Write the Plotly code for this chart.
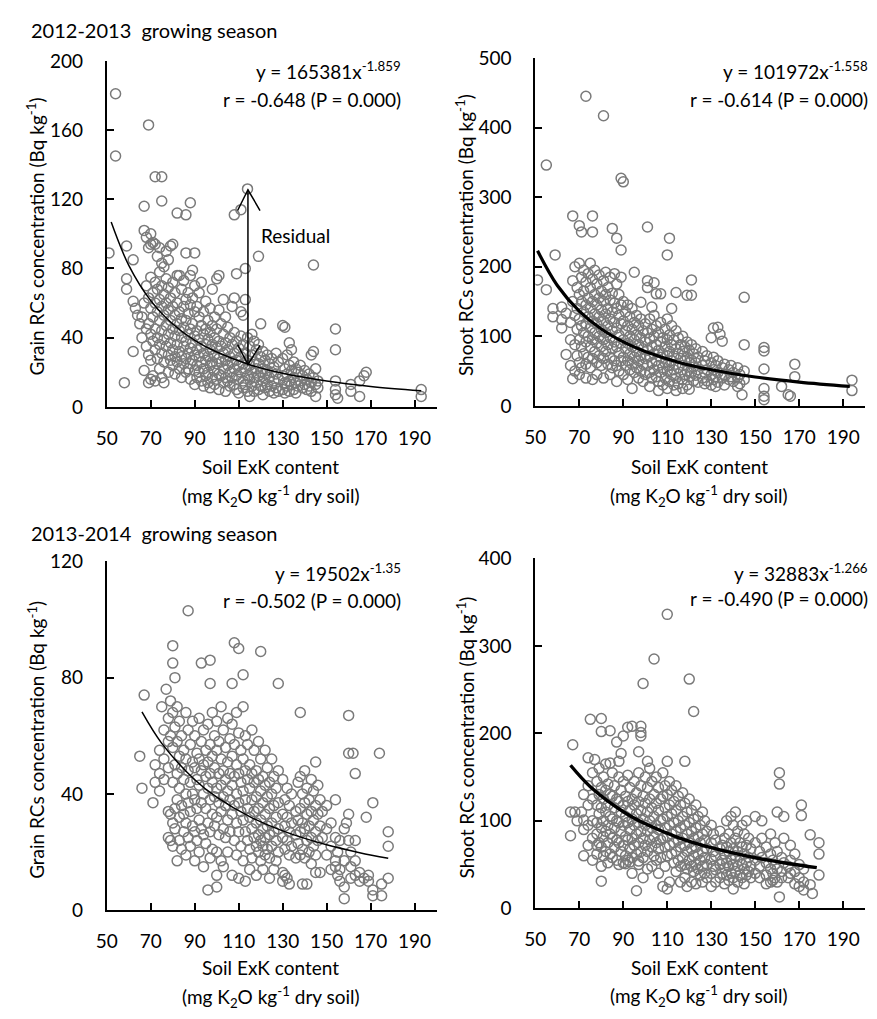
import plotly.graph_objects as go

# ---------------- data ----------------
xticks = [50, 70, 90, 110, 130, 150, 170, 190]

# Panel A: grain RCs, 2012-2013  (x = soil ExK, y = Bq/kg)
grain_1213_points = [
    (51, 89), (54, 181), (54, 145), (58, 14), (59, 93), (59, 74), (59, 68), (62, 85), (62, 61), (62, 32),
    (63, 57), (64, 53), (65, 48), (66, 40), (66, 52), (67, 116), (67, 102), (67, 60), (67, 21),
    (68, 98), (68, 70), (68, 45), (68, 35), (69, 163), (69, 92), (69, 63), (69, 48), (69, 30), (69, 14),
    (70, 100), (70, 94), (70, 75), (70, 57), (70, 42), (70, 27), (70, 16),
    (71, 95), (71, 66), (71, 52), (71, 38), (71, 18),
    (72, 133), (72, 94), (72, 72), (72, 60), (72, 45), (72, 33), (72, 15),
    (73, 87), (73, 68), (73, 55), (73, 40), (73, 28),
    (74, 92), (74, 78), (74, 62), (74, 50), (74, 36), (74, 22),
    (75, 133), (75, 119), (75, 83), (75, 70), (75, 58), (75, 44), (75, 31), (75, 17),
    (76, 81), (76, 65), (76, 53), (76, 39), (76, 26), (76, 14),
    (77, 90), (77, 74), (77, 60), (77, 47), (77, 35),
    (78, 85), (78, 69), (78, 56), (78, 42), (78, 30), (78, 20),
    (79, 93), (79, 63), (79, 50), (79, 37), (79, 27),
    (80, 94), (80, 72), (80, 58), (80, 45), (80, 33), (80, 24),
    (81, 66), (81, 53), (81, 41), (81, 29), (81, 19),
    (82, 112), (82, 76), (82, 60), (82, 48), (82, 36), (82, 26),
    (83, 76), (83, 55), (83, 44), (83, 32), (83, 22),
    (84, 68), (84, 51), (84, 40), (84, 29), (84, 17),
    (85, 73), (85, 58), (85, 46), (85, 35), (85, 25),
    (86, 111), (86, 89), (86, 62), (86, 50), (86, 38), (86, 28), (86, 20),
    (87, 66), (87, 54), (87, 42), (87, 31), (87, 22),
    (88, 118), (88, 76), (88, 59), (88, 45), (88, 34), (88, 25), (88, 16),
    (89, 79), (89, 63), (89, 48), (89, 37), (89, 27),
    (90, 89), (90, 70), (90, 55), (90, 41), (90, 30), (90, 21), (90, 13),
    (91, 58), (91, 44), (91, 33), (91, 24), (91, 17),
    (92, 66), (92, 52), (92, 39), (92, 29), (92, 20),
    (93, 72), (93, 47), (93, 35), (93, 26), (93, 15),
    (94, 55), (94, 42), (94, 31), (94, 22), (94, 12),
    (95, 61), (95, 45), (95, 36), (95, 27), (95, 18),
    (96, 50), (96, 39), (96, 29), (96, 20), (96, 14),
    (97, 57), (97, 43), (97, 33), (97, 24), (97, 11),
    (98, 68), (98, 47), (98, 36), (98, 26), (98, 17),
    (99, 52), (99, 40), (99, 30), (99, 21), (99, 13),
    (100, 74), (100, 45), (100, 34), (100, 25), (100, 16),
    (101, 76), (101, 56), (101, 38), (101, 28), (101, 19), (101, 10),
    (102, 48), (102, 35), (102, 26), (102, 18),
    (103, 62), (103, 42), (103, 31), (103, 22), (103, 14),
    (104, 52), (104, 37), (104, 27), (104, 17), (104, 9),
    (105, 46), (105, 33), (105, 24), (105, 15),
    (106, 40), (106, 29), (106, 20), (106, 12),
    (107, 58), (107, 36), (107, 26), (107, 17),
    (108, 111), (108, 63), (108, 43), (108, 31), (108, 22), (108, 13),
    (109, 77), (109, 38), (109, 27), (109, 18), (109, 10),
    (110, 34), (110, 24), (110, 16), (110, 8),
    (111, 114), (111, 55), (111, 41), (111, 29), (111, 20),
    (112, 53), (112, 36), (112, 25), (112, 15), (112, 11),
    (113, 80), (113, 62), (113, 31), (113, 22), (113, 13),
    (114, 126), (114, 40), (114, 27), (114, 18), (114, 9),
    (115, 35), (115, 24), (115, 16), (115, 6),
    (116, 42), (116, 30), (116, 20), (116, 12),
    (117, 38), (117, 26), (117, 17), (117, 9),
    (118, 33), (118, 22), (118, 14),
    (119, 87), (119, 36), (119, 25), (119, 18), (119, 10),
    (120, 48), (120, 29), (120, 20), (120, 12),
    (121, 32), (121, 22), (121, 15), (121, 7),
    (122, 27), (122, 19), (122, 11), (123, 30), (123, 21), (123, 13),
    (124, 25), (124, 17), (124, 9), (125, 28), (125, 20), (125, 12),
    (126, 23), (126, 15), (126, 8), (127, 31), (127, 19), (127, 11),
    (128, 26), (128, 16), (128, 9),
    (130, 47), (130, 28), (130, 18), (130, 10), (131, 46), (131, 22), (131, 14), (131, 8),
    (132, 30), (132, 19), (132, 12), (133, 37), (133, 24), (133, 15), (133, 9),
    (134, 33), (134, 21), (134, 13), (135, 26), (135, 17), (135, 10),
    (136, 22), (136, 14), (136, 8), (137, 20), (137, 12), (138, 24), (138, 15),
    (139, 18), (139, 11), (140, 21), (140, 13), (141, 16), (141, 10), (142, 19), (142, 12),
    (143, 30), (143, 14), (143, 9), (144, 82), (144, 32), (144, 17),
    (145, 22), (145, 13), (145, 6), (146, 15), (146, 11),
    (154, 45), (154, 33), (154, 15), (154, 10), (154, 7), (155, 5),
    (161, 13), (161, 9), (165, 6), (165, 15), (167, 18), (168, 20),
    (193, 10), (193, 6),
]

# Panel B: shoot RCs, 2012-2013
shoot_1213_points = [
    (51, 181), (55, 346), (55, 167), (58, 140), (58, 128), (59, 217), (62, 142), (62, 124), (62, 112),
    (64, 133), (64, 74), (67, 273), (67, 39), (70, 259), (71, 250), (73, 445), (76, 273), (76, 250),
    (81, 417), (85, 255), (87, 241), (89, 224), (89, 327), (90, 322), (95, 192), (98, 149), (101, 257),
    (101, 180), (103, 142), (104, 177), (105, 161), (107, 161), (110, 217), (111, 241), (112, 140),
    (114, 163), (119, 159), (121, 159), (121, 181), (130, 98), (131, 112), (133, 113), (134, 103),
    (135, 93), (145, 156), (145, 88), (144, 16), (154, 84), (154, 79), (154, 53), (154, 25), (154, 14),
    (154, 9), (162, 28), (165, 16), (166, 14), (168, 60), (168, 42), (194, 37), (194, 22),
    (66, 120), (66, 95), (66, 58), (67, 150), (67, 180),
    (68, 200), (68, 130), (68, 88), (68, 50), (69, 170), (69, 140), (69, 110), (69, 72),
    (70, 205), (70, 160), (70, 125), (70, 95), (70, 62), (70, 45),
    (71, 185), (71, 150), (71, 115), (71, 85), (71, 55),
    (72, 195), (72, 165), (72, 135), (72, 105), (72, 75),
    (73, 178), (73, 145), (73, 118), (73, 92), (73, 60), (73, 40),
    (74, 190), (74, 155), (74, 128), (74, 100), (74, 70),
    (75, 205), (75, 170), (75, 140), (75, 112), (75, 85), (75, 55),
    (76, 182), (76, 150), (76, 122), (76, 95), (76, 68), (76, 38),
    (77, 195), (77, 160), (77, 132), (77, 105), (77, 78),
    (78, 175), (78, 145), (78, 118), (78, 90), (78, 62), (78, 45),
    (79, 188), (79, 155), (79, 128), (79, 100), (79, 72),
    (80, 165), (80, 138), (80, 110), (80, 85), (80, 58),
    (81, 180), (81, 150), (81, 122), (81, 95), (81, 68), (81, 40),
    (82, 192), (82, 160), (82, 132), (82, 105), (82, 78),
    (83, 170), (83, 140), (83, 115), (83, 88), (83, 60),
    (84, 185), (84, 152), (84, 125), (84, 98), (84, 70), (84, 45),
    (85, 162), (85, 135), (85, 108), (85, 82), (85, 55),
    (86, 190), (86, 148), (86, 120), (86, 92), (86, 65),
    (87, 175), (87, 140), (87, 112), (87, 85), (87, 58), (87, 35),
    (88, 160), (88, 130), (88, 102), (88, 76), (88, 50),
    (89, 185), (89, 145), (89, 118), (89, 90), (89, 65),
    (90, 150), (90, 122), (90, 95), (90, 70), (90, 45),
    (91, 135), (91, 108), (91, 82), (91, 58),
    (92, 145), (92, 115), (92, 90), (92, 65), (92, 38),
    (93, 128), (93, 100), (93, 75), (93, 52),
    (94, 140), (94, 110), (94, 85), (94, 60), (94, 25),
    (95, 120), (95, 95), (95, 70), (95, 48),
    (96, 130), (96, 102), (96, 78), (96, 55),
    (97, 115), (97, 88), (97, 65), (97, 40),
    (98, 125), (98, 98), (98, 72), (98, 50),
    (99, 108), (99, 82), (99, 60), (99, 35),
    (100, 118), (100, 92), (100, 68), (100, 45),
    (101, 170), (101, 105), (101, 80), (101, 58),
    (102, 125), (102, 96), (102, 72), (102, 48), (102, 28),
    (103, 110), (103, 85), (103, 62), (103, 40),
    (104, 130), (104, 100), (104, 75), (104, 52),
    (105, 115), (105, 88), (105, 65), (105, 42),
    (106, 105), (106, 80), (106, 58), (106, 35), (106, 22),
    (107, 120), (107, 92), (107, 70), (107, 48),
    (108, 98), (108, 75), (108, 55), (108, 30),
    (109, 110), (109, 85), (109, 62), (109, 40),
    (110, 125), (110, 95), (110, 72), (110, 50), (110, 25),
    (111, 102), (111, 78), (111, 58), (111, 35),
    (112, 115), (112, 88), (112, 65), (112, 45),
    (113, 95), (113, 72), (113, 52), (113, 30),
    (114, 108), (114, 82), (114, 60), (114, 40), (114, 22),
    (115, 98), (115, 75), (115, 55), (115, 32),
    (116, 88), (116, 68), (116, 48),
    (117, 100), (117, 78), (117, 58), (117, 38), (117, 25),
    (118, 85), (118, 65), (118, 45),
    (119, 92), (119, 70), (119, 50), (119, 30),
    (120, 80), (120, 62), (120, 42), (120, 24),
    (121, 88), (121, 66), (121, 48), (122, 75), (122, 56), (122, 36),
    (123, 82), (123, 62), (123, 44), (124, 70), (124, 52), (124, 34),
    (126, 78), (126, 58), (126, 40), (127, 65), (127, 48), (127, 32),
    (128, 72), (128, 52), (128, 36), (130, 62), (130, 45), (130, 30),
    (131, 70), (131, 52), (131, 38), (132, 58), (132, 42), (132, 28),
    (133, 65), (133, 48), (133, 34), (135, 55), (135, 40), (136, 60), (136, 45), (136, 30),
    (138, 52), (138, 38), (139, 58), (139, 42), (140, 48), (140, 35),
    (142, 55), (142, 40), (142, 28), (143, 45), (143, 32), (145, 50), (145, 38),
]

# Panel C: grain RCs, 2013-2014
grain_1314_points = [
    (65, 53), (66, 42), (67, 74), (71, 37), (75, 70), (77, 76), (80, 91), (80, 85), (81, 80), (82, 17),
    (87, 103), (93, 85), (96, 7), (97, 86), (97, 78), (100, 8), (107, 78), (108, 92), (110, 90),
    (112, 81), (120, 89), (128, 78), (138, 68), (145, 51), (160, 67), (160, 54), (162, 54), (163, 47),
    (174, 54), (178, 27), (178, 22), (178, 11), (175, 9), (171, 7), (171, 5), (175, 5), (158, 4),
    (154, 38), (171, 37), (168, 32), (160, 33), (159, 30), (160, 24), (163, 24),
    (72, 50), (72, 44), (74, 55), (74, 47), (74, 41), (76, 62), (76, 52), (76, 45),
    (78, 66), (78, 58), (78, 49), (78, 34), (78, 25), (79, 72), (79, 60), (79, 33), (79, 24),
    (80, 68), (80, 56), (80, 44), (80, 30), (80, 22), (81, 63), (81, 50), (81, 35), (81, 28),
    (82, 70), (82, 58), (82, 47), (82, 38), (83, 65), (83, 53), (83, 42), (83, 32), (83, 24),
    (84, 60), (84, 49), (84, 36), (84, 21), (85, 55), (85, 45), (85, 33), (85, 27),
    (86, 68), (86, 52), (86, 40), (86, 30), (86, 19), (87, 62), (87, 48), (87, 37), (87, 25),
    (88, 57), (88, 44), (88, 34), (88, 22), (89, 65), (89, 51), (89, 40), (89, 29),
    (90, 60), (90, 49), (90, 38), (90, 27), (90, 17), (91, 54), (91, 45), (91, 35), (91, 24),
    (92, 66), (92, 52), (92, 43), (92, 31), (92, 20), (93, 58), (93, 48), (93, 37), (93, 28),
    (94, 62), (94, 50), (94, 40), (94, 26), (94, 15), (95, 55), (95, 46), (95, 35), (95, 23),
    (96, 64), (96, 51), (96, 42), (96, 30), (97, 57), (97, 47), (97, 38), (97, 27), (97, 18),
    (98, 68), (98, 53), (98, 44), (98, 33), (98, 21), (99, 60), (99, 49), (99, 39), (99, 29),
    (100, 65), (100, 55), (100, 42), (100, 32), (100, 20), (100, 12),
    (101, 58), (101, 47), (101, 37), (101, 26), (102, 70), (102, 52), (102, 43), (102, 34), (102, 17),
    (103, 62), (103, 48), (103, 39), (103, 28), (103, 15), (104, 56), (104, 45), (104, 36), (104, 25),
    (105, 66), (105, 51), (105, 41), (105, 31), (105, 20), (106, 59), (106, 47), (106, 38), (106, 27),
    (107, 64), (107, 53), (107, 43), (107, 33), (107, 12), (108, 57), (108, 46), (108, 36), (108, 24),
    (109, 68), (109, 50), (109, 40), (109, 30), (109, 19), (110, 61), (110, 47), (110, 37), (110, 27), (110, 11),
    (111, 55), (111, 44), (111, 34), (111, 22), (112, 70), (112, 52), (112, 41), (112, 31), (112, 17),
    (113, 60), (113, 48), (113, 38), (113, 27), (113, 10), (114, 57), (114, 45), (114, 35), (114, 24),
    (115, 50), (115, 42), (115, 32), (115, 21), (115, 14), (116, 62), (116, 47), (116, 38), (116, 28), (116, 18),
    (117, 55), (117, 44), (117, 34), (117, 25), (118, 48), (118, 39), (118, 30), (118, 22), (118, 12),
    (119, 58), (119, 45), (119, 35), (119, 26), (119, 20), (120, 52), (120, 41), (120, 31), (120, 24), (120, 17),
    (121, 46), (121, 37), (121, 28), (121, 22), (121, 14), (122, 55), (122, 43), (122, 33), (122, 25), (122, 19),
    (123, 49), (123, 39), (123, 29), (123, 21), (124, 44), (124, 35), (124, 26), (124, 18), (124, 11),
    (125, 52), (125, 40), (125, 30), (125, 22), (126, 46), (126, 36), (126, 27), (126, 14),
    (127, 42), (127, 32), (127, 24), (127, 17), (128, 48), (128, 37), (128, 28), (128, 20),
    (130, 45), (130, 33), (130, 25), (130, 13), (130, 10), (131, 38), (131, 29), (131, 21), (131, 12),
    (132, 42), (132, 32), (132, 24), (132, 11), (133, 36), (133, 27), (133, 19), (133, 9),
    (134, 40), (134, 30), (134, 22), (136, 34), (136, 26), (136, 18), (137, 44), (137, 31), (137, 23),
    (138, 46), (138, 35), (138, 27), (138, 19), (139, 40), (139, 30), (139, 21), (139, 9),
    (140, 48), (140, 37), (140, 28), (140, 18), (141, 42), (141, 33), (141, 24), (141, 9),
    (142, 38), (142, 29), (142, 20), (143, 45), (143, 34), (143, 25), (143, 16),
    (144, 41), (144, 31), (144, 22), (145, 36), (145, 27), (145, 19), (145, 13),
    (146, 43), (146, 33), (146, 24), (147, 38), (147, 29), (147, 13), (148, 34), (148, 25),
    (150, 36), (150, 28), (150, 19), (152, 30), (152, 22), (152, 14), (154, 25), (154, 17), (154, 15),
    (155, 20), (155, 12), (156, 24), (156, 14), (156, 10), (158, 28), (158, 17), (158, 8),
    (161, 20), (161, 15), (161, 11), (163, 17), (163, 12), (165, 13), (165, 10), (167, 11), (169, 12), (169, 10),
]

# Panel D: shoot RCs, 2013-2014
shoot_1314_points = [
    (66, 110), (66, 83), (67, 187), (68, 110), (69, 100), (71, 110), (72, 101), (75, 216), (74, 172),
    (77, 170), (80, 217), (80, 202), (84, 203), (84, 166), (87, 190), (88, 168), (89, 177), (90, 197),
    (92, 207), (94, 208), (98, 208), (98, 201), (98, 197), (97, 179), (101, 168), (104, 285), (99, 257),
    (110, 336), (110, 168), (118, 168), (120, 262), (122, 225), (78, 72), (80, 31), (91, 51), (93, 53),
    (97, 54), (96, 20), (161, 155), (161, 142), (171, 118), (171, 106), (175, 84), (179, 75), (179, 62),
    (179, 38), (175, 27), (172, 21), (176, 17), (161, 13),
    (72, 130), (72, 90), (72, 60), (74, 140), (74, 118), (74, 95), (74, 72),
    (76, 155), (76, 125), (76, 100), (76, 80), (76, 55), (78, 145), (78, 118), (78, 98), (78, 85), (78, 62),
    (79, 160), (79, 130), (79, 108), (79, 75), (80, 138), (80, 115), (80, 92), (80, 70), (80, 48),
    (81, 150), (81, 125), (81, 100), (81, 82), (81, 60), (82, 165), (82, 135), (82, 110), (82, 88), (82, 65),
    (83, 142), (83, 118), (83, 95), (83, 75), (83, 52), (84, 130), (84, 105), (84, 85), (84, 62),
    (85, 155), (85, 128), (85, 102), (85, 80), (85, 58), (86, 140), (86, 115), (86, 92), (86, 70),
    (87, 125), (87, 100), (87, 78), (87, 55), (88, 150), (88, 122), (88, 98), (88, 75), (88, 50),
    (89, 135), (89, 110), (89, 88), (89, 65), (90, 145), (90, 118), (90, 95), (90, 72), (90, 52),
    (91, 128), (91, 105), (91, 82), (91, 60), (92, 152), (92, 122), (92, 98), (92, 78), (92, 55),
    (93, 138), (93, 112), (93, 90), (93, 68), (94, 125), (94, 102), (94, 80), (94, 58), (94, 40),
    (95, 145), (95, 118), (95, 95), (95, 72), (96, 132), (96, 108), (96, 85), (96, 62),
    (97, 155), (97, 122), (97, 98), (97, 75), (97, 50), (98, 140), (98, 112), (98, 88), (98, 65),
    (99, 128), (99, 102), (99, 80), (99, 58), (99, 35), (100, 150), (100, 120), (100, 95), (100, 72),
    (101, 138), (101, 110), (101, 88), (101, 65), (101, 45), (102, 160), (102, 125), (102, 100), (102, 78),
    (103, 145), (103, 115), (103, 92), (103, 70), (103, 48), (104, 130), (104, 105), (104, 82), (104, 60),
    (105, 150), (105, 120), (105, 95), (105, 75), (105, 55), (106, 138), (106, 112), (106, 90), (106, 68), (106, 40),
    (107, 125), (107, 100), (107, 78), (107, 58), (108, 155), (108, 128), (108, 102), (108, 80), (108, 25),
    (109, 140), (109, 115), (109, 92), (109, 70), (109, 48), (110, 130), (110, 105), (110, 82), (110, 60), (110, 22),
    (111, 145), (111, 118), (111, 95), (111, 72), (111, 30), (112, 135), (112, 108), (112, 85), (112, 62),
    (113, 122), (113, 98), (113, 75), (113, 52), (114, 140), (114, 112), (114, 88), (114, 65), (114, 42),
    (115, 128), (115, 100), (115, 78), (115, 55), (116, 118), (116, 92), (116, 70), (116, 48), (116, 30),
    (117, 132), (117, 105), (117, 80), (117, 58), (118, 120), (118, 95), (118, 72), (118, 50), (118, 35),
    (119, 110), (119, 85), (119, 65), (119, 45), (119, 25), (120, 125), (120, 98), (120, 75), (120, 55),
    (121, 112), (121, 88), (121, 68), (121, 48), (121, 30), (122, 102), (122, 80), (122, 60), (122, 42),
    (123, 118), (123, 92), (123, 70), (123, 50), (123, 28), (124, 105), (124, 82), (124, 62), (124, 45),
    (125, 95), (125, 75), (125, 55), (125, 38), (126, 110), (126, 85), (126, 65), (126, 48), (126, 30),
    (127, 100), (127, 78), (127, 58), (127, 40), (128, 88), (128, 68), (128, 50), (128, 35),
    (130, 95), (130, 75), (130, 56), (130, 40), (130, 25), (131, 85), (131, 65), (131, 48),
    (132, 78), (132, 60), (132, 44), (132, 30), (134, 88), (134, 68), (134, 50), (134, 35),
    (135, 72), (135, 55), (135, 40), (136, 80), (136, 62), (136, 46), (136, 28),
    (137, 100), (137, 70), (137, 52), (137, 38), (138, 85), (138, 65), (138, 48), (138, 32),
    (139, 105), (139, 75), (139, 56), (139, 40), (140, 95), (140, 68), (140, 50), (140, 35), (140, 22),
    (141, 110), (141, 80), (141, 60), (141, 42), (142, 88), (142, 65), (142, 48), (142, 30),
    (143, 75), (143, 55), (143, 38), (144, 95), (144, 70), (144, 50), (144, 35),
    (145, 85), (145, 62), (145, 45), (145, 28), (146, 100), (146, 72), (146, 52), (146, 38),
    (147, 80), (147, 58), (147, 42), (148, 68), (148, 48), (148, 35),
    (150, 105), (150, 75), (150, 55), (150, 40), (152, 65), (152, 48), (152, 35),
    (153, 100), (153, 80), (153, 58), (155, 70), (155, 52), (155, 38), (155, 28),
    (157, 85), (157, 62), (157, 45), (157, 30), (158, 55), (158, 40), (158, 32),
    (159, 75), (159, 50), (159, 35), (160, 110), (160, 65), (160, 45), (160, 30),
    (162, 58), (162, 42), (162, 35), (163, 105), (163, 80), (163, 52),
    (165, 48), (165, 35), (166, 72), (166, 55), (166, 40), (168, 62), (168, 42), (168, 28),
    (170, 50), (170, 35), (170, 25), (172, 45), (172, 30),
]

# Fitted power curves as drawn
fit_1213_grain_x = [52, 60, 70, 80, 90, 100, 115, 130, 150, 170, 193]
fit_1213_grain_y = [106.8, 81.8, 61.4, 47.9, 38.5, 31.7, 24.4, 19.4, 14.9, 11.8, 9.3]
fit_1213_shoot_x = [51, 60, 70, 80, 90, 100, 115, 130, 150, 170, 193]
fit_1213_shoot_y = [222.9, 173.0, 136.1, 110.5, 92.0, 78.1, 62.8, 51.9, 41.5, 34.2, 28.0]
fit_1314_grain_x = [66, 75, 90, 100, 115, 130, 150, 165, 178]
fit_1314_grain_y = [68.2, 57.4, 44.9, 38.9, 32.2, 27.3, 22.5, 19.8, 17.9]
fit_1314_shoot_x = [66, 75, 90, 100, 115, 130, 150, 165, 178]
fit_1314_shoot_y = [163.5, 139.0, 110.4, 96.6, 80.9, 69.3, 57.8, 51.2, 46.5]

equations = ["y = 165381x<sup>-1.859</sup>", "y = 101972x<sup>-1.558</sup>",
             "y = 19502x<sup>-1.35</sup>", "y = 32883x<sup>-1.266</sup>"]
corrs = ["r = -0.648 (P = 0.000)", "r = -0.614 (P = 0.000)",
         "r = -0.502 (P = 0.000)", "r = -0.490 (P = 0.000)"]
season_titles = ["2012-2013  growing season", "2013-2014  growing season"]
y_titles = ["Grain RCs concentration (Bq kg<sup>-1</sup>)", "Shoot RCs concentration (Bq kg<sup>-1</sup>)",
            "Grain RCs concentration (Bq kg<sup>-1</sup>)", "Shoot RCs concentration (Bq kg<sup>-1</sup>)"]
y_ranges = [[0, 200], [0, 500], [0, 120], [0, 400]]
y_dticks = [40, 100, 40, 100]

# ---------------- layout geometry ----------------
W, H = 877, 1019
FONT = "Lato"
FS = 19
GRAY = "#7a7a7a"

# plot-area pixel boxes: (left, right, top(y=max), bottom(y=0))
boxes = [(97, 431, 50, 404), (531, 865, 47, 403), (97, 431, 562, 919), (531, 865, 559, 917)]

def px(xp):
    return xp / W

def py(yp):
    return 1 - yp / H

fig = go.Figure()
panels = [(grain_1213_points, fit_1213_grain_x, fit_1213_grain_y, 1.5),
          (shoot_1213_points, fit_1213_shoot_x, fit_1213_shoot_y, 3.2),
          (grain_1314_points, fit_1314_grain_x, fit_1314_grain_y, 1.5),
          (shoot_1314_points, fit_1314_shoot_x, fit_1314_shoot_y, 3.4)]

for i, (pts, fx, fy, lw) in enumerate(panels):
    n = i + 1
    xa = "x" if n == 1 else f"x{n}"
    ya = "y" if n == 1 else f"y{n}"
    fig.add_trace(go.Scatter(
        x=[p[0] for p in pts], y=[p[1] for p in pts], mode="markers",
        marker=dict(symbol="circle-open", size=10, color=GRAY, line=dict(width=1.5, color=GRAY)),
        xaxis=xa, yaxis=ya, showlegend=False, hoverinfo="skip"))
    fig.add_trace(go.Scatter(
        x=fx, y=fy, mode="lines", line=dict(color="black", width=lw, shape="spline"),
        xaxis=xa, yaxis=ya, showlegend=False, hoverinfo="skip"))

layout = dict(width=W, height=H, margin=dict(l=0, r=0, t=0, b=0),
              paper_bgcolor="white", plot_bgcolor="white",
              font=dict(family=FONT, size=FS, color="black"))

for i, (l, r, t, b) in enumerate(boxes):
    n = i + 1
    xk = "xaxis" if n == 1 else f"xaxis{n}"
    yk = "yaxis" if n == 1 else f"yaxis{n}"
    anchor_y = "y" if n == 1 else f"y{n}"
    anchor_x = "x" if n == 1 else f"x{n}"
    layout[xk] = dict(domain=[px(l), px(r)], range=[50, 200], anchor=anchor_y,
                      tickvals=xticks, ticktext=[str(v) for v in xticks],
                      showline=True, linecolor="black", linewidth=2,
                      ticks="inside", ticklen=7, tickwidth=2, tickcolor="black",
                      showgrid=False, zeroline=False, ticklabelstandoff=13,
                      tickfont=dict(family=FONT, size=FS))
    layout[yk] = dict(domain=[py(b), py(t)], range=y_ranges[i], anchor=anchor_x,
                      dtick=y_dticks[i], tick0=0,
                      showline=True, linecolor="black", linewidth=2,
                      ticks="inside", ticklen=7, tickwidth=2, tickcolor="black",
                      showgrid=False, zeroline=False, ticklabelstandoff=18,
                      tickfont=dict(family=FONT, size=FS))

fig.update_layout(**layout)

ann = []
# season titles
ann.append(dict(text=season_titles[0], x=px(18), y=py(18), xanchor="left", yanchor="middle",
                xref="paper", yref="paper", showarrow=False, font=dict(size=20)))
ann.append(dict(text=season_titles[1], x=px(18), y=py(533), xanchor="left", yanchor="middle",
                xref="paper", yref="paper", showarrow=False, font=dict(size=20)))

eq_pos = [(397, 60, 90), (870, 60, 90), (397, 573, 602), (870, 573, 600)]
for i, (xr, y1, y2) in enumerate(eq_pos):
    ann.append(dict(text=equations[i], x=px(xr), y=py(y1), xanchor="right", yanchor="middle",
                    xref="paper", yref="paper", showarrow=False, font=dict(size=FS)))
    ann.append(dict(text=corrs[i], x=px(xr), y=py(y2), xanchor="right", yanchor="middle",
                    xref="paper", yref="paper", showarrow=False, font=dict(size=FS)))

# x axis titles
xt_pos = [(263, 465, 495), (697, 465, 495), (263, 978, 1008), (697, 978, 1007)]
for (xc, y1, y2) in xt_pos:
    ann.append(dict(text="Soil ExK content", x=px(xc), y=py(y1), xanchor="center", yanchor="middle",
                    xref="paper", yref="paper", showarrow=False, font=dict(size=FS)))
    ann.append(dict(text="(mg K<sub>2</sub>O kg<sup>-1</sup> dry soil)", x=px(xc), y=py(y2),
                    xanchor="center", yanchor="middle",
                    xref="paper", yref="paper", showarrow=False, font=dict(size=FS)))

# y axis titles
yt_pos = [(25, 230), (460, 228), (25, 745), (460, 742)]
for i, (xc, yc) in enumerate(yt_pos):
    ann.append(dict(text=y_titles[i], x=px(xc), y=py(yc), xanchor="center", yanchor="middle",
                    textangle=-90, xref="paper", yref="paper", showarrow=False, font=dict(size=FS)))

# Residual label
ann.append(dict(text="Residual", x=136, y=99, xref="x", yref="y", showarrow=False,
                font=dict(size=FS), xanchor="center", yanchor="middle"))
fig.update_layout(annotations=ann)

# Residual double arrow (open V heads)
fig.add_shape(type="line", x0=114.2, y0=25, x1=114.2, y1=125.5, xref="x", yref="y",
              line=dict(color="black", width=1.5))
fig.add_shape(type="path", path="M 109.5,113.5 L 114.2,125.5 L 119.7,113.5", xref="x", yref="y",
              line=dict(color="black", width=1.5))
fig.add_shape(type="path", path="M 109.5,36 L 114.2,24.5 L 119.7,35.5", xref="x", yref="y",
              line=dict(color="black", width=1.5))

fig.write_html("out.html", config={"displayModeBar": False},
               post_script="document.body.style.margin='0px';document.body.style.overflow='hidden';")
